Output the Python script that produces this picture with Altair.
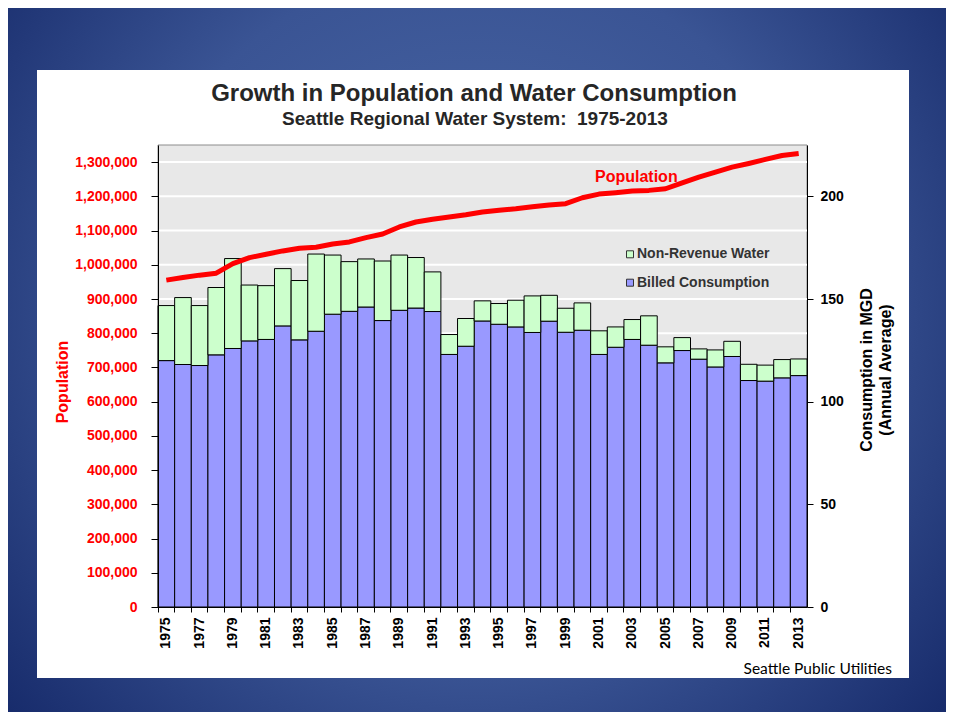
import altair as alt
import pandas as pd

# ---------------- data ----------------
years = list(range(1975, 2014))
billed = [120.0, 118.1, 117.6, 122.8, 125.9, 129.6, 130.3, 136.9, 130.1, 134.3,
          142.6, 144.0, 146.1, 139.5, 144.5, 145.6, 143.9, 123.0, 127.0, 139.3,
          137.7, 136.4, 133.7, 139.2, 133.8, 134.8, 123.0, 126.5, 130.3, 127.5,
          118.9, 124.9, 120.7, 116.9, 122.0, 110.3, 110.0, 111.6, 112.7]
total = [146.8, 150.7, 146.8, 155.6, 169.7, 156.8, 156.5, 164.8, 159.0, 171.9,
         171.4, 168.2, 169.5, 168.5, 171.4, 170.2, 163.2, 132.7, 140.5, 149.1,
         147.8, 149.4, 151.5, 151.8, 145.5, 148.1, 134.5, 136.4, 140.0, 141.8,
         126.7, 131.2, 125.7, 125.2, 129.4, 118.2, 117.8, 120.5, 120.8]
population = [955100, 962700, 969700, 975500, 1003500, 1021000, 1030900, 1040500,
              1048400, 1051300, 1060900, 1066700, 1079300, 1090000, 1110500, 1125000,
              1132900, 1139600, 1146300, 1154200, 1159100, 1163800, 1169600, 1174600,
              1178400, 1195900, 1206600, 1210500, 1215400, 1217400, 1222100, 1239600,
              1256200, 1270800, 1285300, 1296100, 1307800, 1319400, 1325300]
pop_ticks = [0, 100000, 200000, 300000, 400000, 500000, 600000, 700000,
             800000, 900000, 1000000, 1100000, 1200000, 1300000]
mgd_ticks = [0, 50, 100, 150, 200]
legend_labels = ["Non-Revenue Water", "Billed Consumption"]
legend_colors = ["#ccffcc", "#9999ff"]

title_text = "Growth in Population and Water Consumption"
subtitle_text = "Seattle Regional Water System:\u00a0 1975-2013"
left_title = "Population"
right_title = ["Consumption in MGD", "(Annual Average)"]
source_text = "Seattle Public Utilities"

# ---------------- layout ----------------
W, H = 649, 462
FONT = "Liberation Sans"
POP_DOMAIN = [0, 1350000]
MGD_DOMAIN = [0, 225]

df = pd.DataFrame({"year": years, "billed": billed, "total": total,
                   "population": population})
one = alt.Data(values=[{}])

bg_grad = alt.Gradient(
    gradient="radial",
    stops=[alt.GradientStop(offset=0, color="#4b69a8"),
           alt.GradientStop(offset=0.5, color="#3a5494"),
           alt.GradientStop(offset=1, color="#0c1e5e")],
    x1=0.5, y1=0.45, x2=0.5, y2=0.45, r1=0, r2=0.75)

bg = alt.Chart(one).mark_rect(fill=bg_grad).encode(
    x=alt.value(-150), x2=alt.value(788), y=alt.value(-137), y2=alt.value(567))
panel = alt.Chart(one).mark_rect(fill="white").encode(
    x=alt.value(-121), x2=alt.value(751), y=alt.value(-75), y2=alt.value(533))
plotbg = alt.Chart(one).mark_rect(fill="#e8e8e8", stroke="#8c8c8c", strokeWidth=1).encode(
    x=alt.value(0), x2=alt.value(W), y=alt.value(0), y2=alt.value(H))

grid = alt.Chart(pd.DataFrame({"v": pop_ticks[1:]})).mark_rule(
    color="white", strokeWidth=2).encode(
    y=alt.Y("v:Q", scale=alt.Scale(domain=POP_DOMAIN), axis=None))

xenc = alt.X("year:O", scale=alt.Scale(paddingInner=0, paddingOuter=0),
             axis=alt.Axis(title=None, bandPosition=0, labelAngle=270, labelOffset=0,
                           labelExpr="datum.value % 2 == 1 ? datum.label : ''",
                           labelFont=FONT, labelFontSize=14, labelFontWeight="bold",
                           labelColor="black", tickColor="black", tickSize=5,
                           labelPadding=5, domainColor="black", grid=False, zindex=1))

billed_bars = alt.Chart(df).mark_bar(fill="#9999ff", stroke="black", strokeWidth=1).encode(
    x=xenc,
    y=alt.Y("billed:Q", scale=alt.Scale(domain=MGD_DOMAIN),
            axis=alt.Axis(orient="right", values=mgd_ticks, title=None, grid=False,
                          labelFont=FONT, labelFontSize=14, labelFontWeight="bold",
                          labelColor="black", tickColor="black", tickSize=6,
                          labelPadding=7, domainColor="black", zindex=1)))
nrw_bars = alt.Chart(df).mark_bar(fill="#ccffcc", stroke="black", strokeWidth=1).encode(
    x=xenc,
    y=alt.Y("total:Q", scale=alt.Scale(domain=MGD_DOMAIN), axis=None),
    y2="billed:Q")

pop_line = alt.Chart(df).mark_line(color="#ff0000", strokeWidth=5, strokeJoin="round").encode(
    x=xenc,
    y=alt.Y("population:Q", scale=alt.Scale(domain=POP_DOMAIN),
            axis=alt.Axis(orient="left", values=pop_ticks, title=None, grid=False,
                          labelExpr="format(datum.value, ',.0f')",
                          labelFont=FONT, labelFontSize=14, labelFontWeight="bold",
                          labelColor="#ff0000", tickColor="black", tickSize=7,
                          labelPadding=14, domainColor="black", zindex=1)))


def txt(text, x, y, size, color="black", weight="bold", align="center",
        angle=0, font=FONT):
    return alt.Chart(one).mark_text(
        text=text, font=font, fontSize=size, fontWeight=weight, color=color,
        align=align, baseline="middle", angle=angle).encode(
        x=alt.value(x), y=alt.value(y))


title = txt(title_text, 316, -51, 24, color="#262626")
subtitle = txt(subtitle_text, 317, -26, 19, color="#262626")
ltitle = txt(left_title, -95, 237, 16, color="#ff0000", angle=270)
rtitle1 = txt(right_title[0], 709, 225, 16, angle=270)
rtitle2 = txt(right_title[1], 728, 225, 16, angle=270)
source = txt(source_text, 734, 524, 15.5, weight="normal", align="right", font="Lato")
pop_label = txt("Population", 437, 32, 16, color="#ff0000", align="left")

leg_df = pd.DataFrame({"label": legend_labels, "color": legend_colors,
                       "py": [109.3, 137.7]})
leg_sq = alt.Chart(leg_df).mark_square(size=49, filled=True, stroke="#333333",
                                       strokeWidth=1, opacity=1).encode(
    x=alt.value(472), y=alt.Y("py:Q", scale=None),
    fill=alt.Color("color:N", scale=None))
leg_tx = alt.Chart(leg_df).mark_text(font=FONT, fontSize=14, fontWeight="bold",
                                     color="#333333", align="left",
                                     baseline="middle").encode(
    x=alt.value(479), y=alt.Y("py:Q", scale=None), text="label:N")

chart = alt.layer(
    bg, panel, plotbg, grid, billed_bars, nrw_bars, pop_line,
    title, subtitle, ltitle, rtitle1, rtitle2, source, pop_label, leg_sq, leg_tx
).resolve_scale(y="independent").properties(
    width=W, height=H,
    autosize=alt.AutoSizeParams(type="none"),
    padding={"left": 150, "top": 137, "right": 139, "bottom": 105},
).configure_view(stroke=None)

chart.save("out.html", embed_options={"renderer": "svg", "actions": False})
